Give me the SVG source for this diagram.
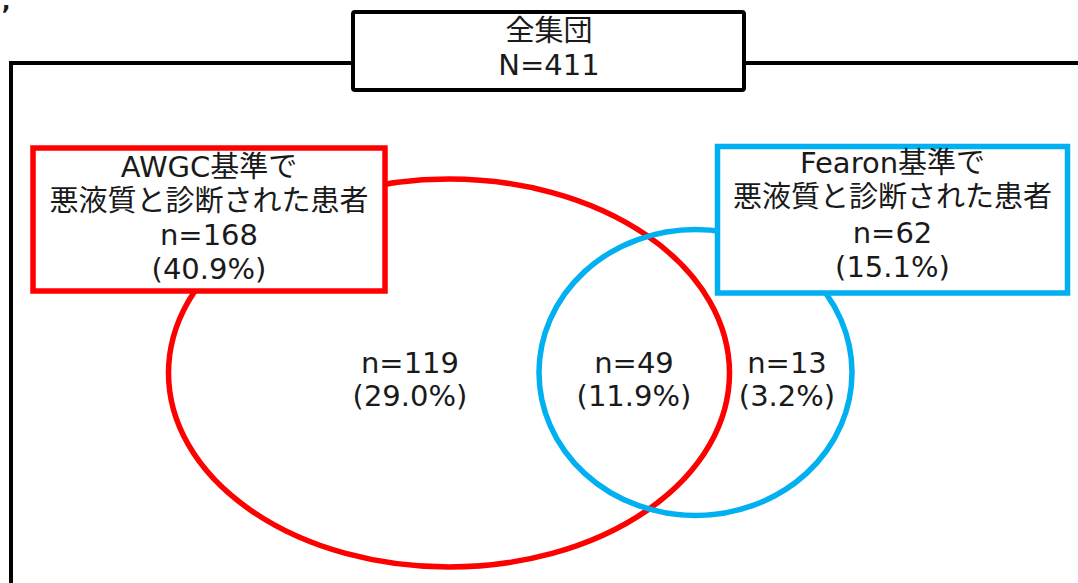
<svg xmlns="http://www.w3.org/2000/svg" width="1078" height="583" viewBox="0 0 1078 583">
<style>
text{font-family:"DejaVu Sans","Noto Sans CJK JP",sans-serif;font-size:29px;fill:#1a1a1a;text-anchor:middle}
.frame{fill:none;stroke:#000;stroke-width:4}
.box{fill:#fff;stroke-width:5.5}
</style>
<rect width="1078" height="583" fill="#fff"/>
<text x="6" y="23" style="font-size:24px;font-weight:bold">’</text>
<g id="connectors">
<path class="frame" d="M11,583 V63 H1078"/>
<ellipse cx="449" cy="373" rx="280.5" ry="194" fill="none" stroke="#FF0000" stroke-width="5.5"/>
<ellipse cx="695.5" cy="372.5" rx="156.5" ry="143" fill="none" stroke="#00B0F0" stroke-width="5.5"/>
</g>
<g id="all">
<rect x="353" y="12" width="391" height="78" rx="2" fill="#fff" stroke="#000" stroke-width="4"/>
<text x="549" y="41">全集団</text>
<text x="549" y="75">N=411</text>
</g>
<g id="awgc">
<rect class="box" x="33" y="148" width="352" height="143" stroke="#FF0000"/>
<text x="209" y="177">AWGC基準で</text>
<text x="209" y="211">悪液質と診断された患者</text>
<text x="209" y="245">n=168</text>
<text x="209" y="279">(40.9%)</text>
</g>
<g id="fearon">
<rect class="box" x="717.5" y="146.5" width="350" height="146.5" stroke="#00B0F0"/>
<text x="892.5" y="173">Fearon基準で</text>
<text x="892.5" y="207">悪液質と診断された患者</text>
<text x="892.5" y="243">n=62</text>
<text x="892.5" y="277">(15.1%)</text>
</g>
<g id="awgc-only">
<text x="410" y="373">n=119</text>
<text x="410" y="406">(29.0%)</text>
</g>
<g id="both">
<text x="634" y="373">n=49</text>
<text x="634" y="406">(11.9%)</text>
</g>
<g id="fearon-only">
<text x="787" y="373">n=13</text>
<text x="787" y="406">(3.2%)</text>
</g>
</svg>
